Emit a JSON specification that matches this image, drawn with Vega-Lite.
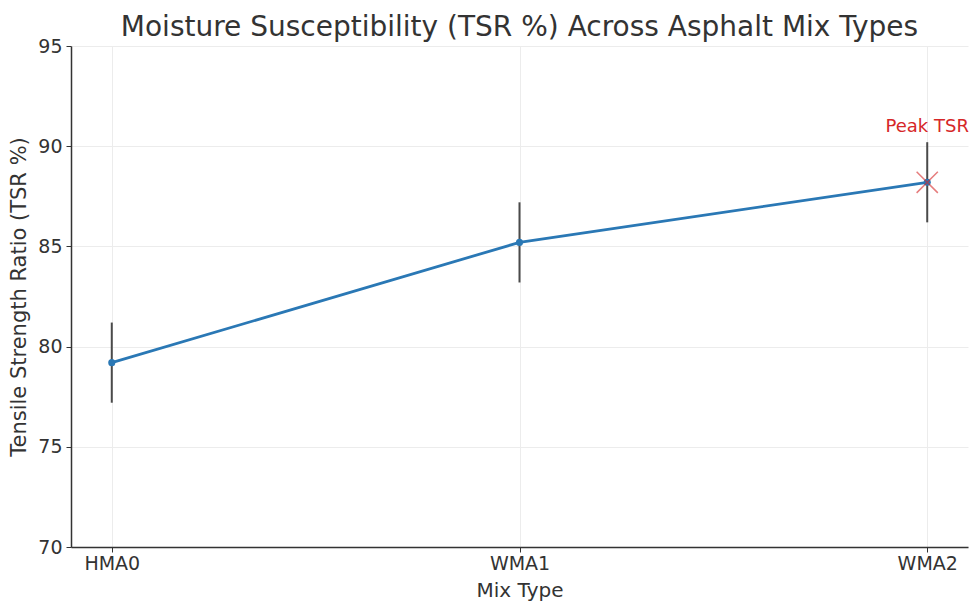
{
  "$schema": "https://vega.github.io/schema/vega-lite/v6.json",
  "width": 897,
  "height": 501,
  "autosize": {"type": "none"},
  "padding": {"left": 71, "top": 46, "right": 11, "bottom": 56},
  "background": "white",
  "title": {
    "text": "Moisture Susceptibility (TSR %) Across Asphalt Mix Types",
    "font": "DejaVu Sans",
    "fontSize": 28,
    "fontWeight": "normal",
    "color": "#333333",
    "anchor": "middle",
    "offset": -5
  },
  "config": {
    "view": {"stroke": null},
    "axis": {
      "labelFont": "DejaVu Sans",
      "titleFont": "DejaVu Sans",
      "labelFontSize": 19,
      "titleFontSize": 20,
      "titleFontWeight": "normal",
      "labelColor": "#333333",
      "titleColor": "#333333",
      "domainColor": "#333333",
      "domainWidth": 1.5,
      "tickColor": "#333333",
      "tickSize": 5,
      "gridColor": "#ececec",
      "gridWidth": 1
    }
  },
  "data": {
    "values": [
      {"mix": "HMA0", "tsr": 79.2, "lo": 77.2, "hi": 81.2},
      {"mix": "WMA1", "tsr": 85.2, "lo": 83.2, "hi": 87.2},
      {"mix": "WMA2", "tsr": 88.2, "lo": 86.2, "hi": 90.2}
    ]
  },
  "encoding": {
    "x": {
      "field": "mix",
      "type": "ordinal",
      "scale": {"type": "point", "padding": 0.1},
      "axis": {"title": "Mix Type", "labelAngle": 0, "grid": true, "labelPadding": 2, "titlePadding": 7}
    }
  },
  "layer": [
    {
      "mark": {"type": "rule", "color": "#4a4a4a", "strokeWidth": 2},
      "encoding": {
        "y": {"field": "lo", "type": "quantitative"},
        "y2": {"field": "hi"}
      }
    },
    {
      "mark": {"type": "line", "color": "#2a78b5", "strokeWidth": 2.8},
      "encoding": {
        "y": {
          "field": "tsr",
          "type": "quantitative",
          "scale": {"domain": [70, 95], "nice": false, "zero": false},
          "axis": {"title": "Tensile Strength Ratio (TSR %)", "titleFontSize": 21, "values": [70, 75, 80, 85, 90, 95], "grid": true, "titlePadding": 8, "labelPadding": 4}
        }
      }
    },
    {
      "mark": {"type": "point", "filled": true, "color": "#2a78b5", "size": 50, "opacity": 1},
      "encoding": {"y": {"field": "tsr", "type": "quantitative"}}
    },
    {
      "transform": [{"filter": "datum.mix === 'WMA2'"}],
      "mark": {"type": "point", "shape": "M-1,-1L1,1M-1,1L1,-1", "filled": false, "stroke": "#d62728", "strokeWidth": 1.5, "opacity": 0.6, "size": 450},
      "encoding": {"y": {"field": "tsr", "type": "quantitative"}}
    },
    {
      "transform": [{"filter": "datum.mix === 'WMA2'"}],
      "mark": {"type": "text", "text": "Peak TSR", "color": "#d62728", "font": "DejaVu Sans", "fontSize": 18, "dy": -55, "align": "center", "baseline": "middle"},
      "encoding": {"y": {"field": "tsr", "type": "quantitative"}}
    }
  ]
}
